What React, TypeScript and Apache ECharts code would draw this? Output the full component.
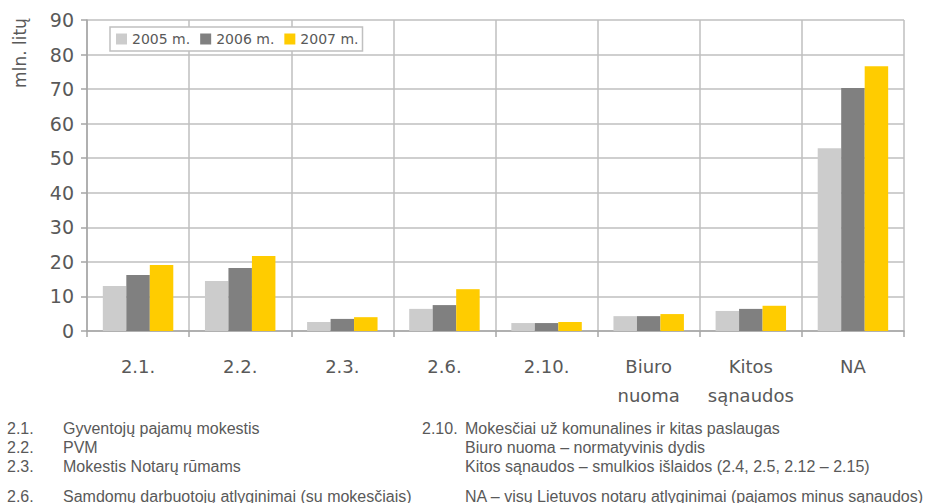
import React, { useEffect, useRef } from "react";
import * as echarts from "echarts";

const categories = ["2.1.", "2.2.", "2.3.", "2.6.", "2.10.", "Biuro\nnuoma", "Kitos\nsąnaudos", "NA"];
const seriesNames = ["2005 m.", "2006 m.", "2007 m."];
const values2005 = [13.0, 14.5, 2.6, 6.4, 2.3, 4.3, 5.8, 52.9];
const values2006 = [16.2, 18.2, 3.5, 7.5, 2.3, 4.3, 6.4, 70.3];
const values2007 = [19.1, 21.7, 4.0, 12.1, 2.6, 4.9, 7.3, 76.6];
const colors = ["#CCCCCC", "#808080", "#FFCC00"];
const yName = "mln. litų";

const notesLeft = [
  ["2.1.", "Gyventojų pajamų mokestis"],
  ["2.2.", "PVM"],
  ["2.3.", "Mokestis Notarų rūmams"],
  ["2.6.", "Samdomų darbuotojų atlyginimai (su mokesčiais)"],
];
const notesRight = [
  ["2.10.", "Mokesčiai už komunalines ir kitas paslaugas"],
  ["", "Biuro nuoma – normatyvinis dydis"],
  ["", "Kitos sąnaudos – smulkios išlaidos (2.4, 2.5, 2.12 – 2.15)"],
  ["", "NA – visų Lietuvos notarų atlyginimai (pajamos minus sąnaudos)"],
];

export default function App() {
  const ref = useRef<HTMLDivElement>(null);
  useEffect(() => {
    if (!ref.current) return;
    const chart = echarts.init(ref.current, undefined, { renderer: "svg" });
    const rowsY = [428, 447, 466, 496];
    const noteFont = { fontFamily: "Liberation Sans", fontSize: 16, fill: "#595959" };
    const graphics: any[] = [
      {
        type: "text",
        x: 20,
        y: 53,
        rotation: Math.PI / 2,
        style: { text: yName, fontFamily: "DejaVu Sans", fontSize: 17, fill: "#595959", align: "center", verticalAlign: "middle" },
      },
    ];
    notesLeft.forEach(([a, b], i) => {
      graphics.push({ type: "text", x: 7, y: rowsY[i], style: { ...noteFont, text: a, verticalAlign: "middle" } });
      graphics.push({ type: "text", x: 63, y: rowsY[i], style: { ...noteFont, text: b, verticalAlign: "middle" } });
    });
    notesRight.forEach(([a, b], i) => {
      if (a) graphics.push({ type: "text", x: 422, y: rowsY[i], style: { ...noteFont, text: a, verticalAlign: "middle" } });
      graphics.push({ type: "text", x: 465, y: rowsY[i], style: { ...noteFont, text: b, verticalAlign: "middle" } });
    });
    const data = [values2005, values2006, values2007];
    chart.setOption({
      animation: false,
      grid: { left: 87, right: 23, top: 20, bottom: 172 },
      legend: {
        left: 110,
        top: 27,
        itemWidth: 11,
        itemHeight: 11,
        itemGap: 10,
        padding: [5, 4, 5, 6],
        backgroundColor: "#FFFFFF",
        borderColor: "#C0C0C0",
        borderWidth: 1.5,
        borderRadius: 0,
        icon: "rect",
        textStyle: { fontFamily: "DejaVu Sans", fontSize: 14, color: "#595959" },
        data: seriesNames,
      },
      xAxis: {
        type: "category",
        data: categories,
        axisLine: { lineStyle: { color: "#A6A6A6", width: 1.5 } },
        axisTick: { show: true, interval: 0, length: 6, lineStyle: { color: "#A6A6A6", width: 1.5 } },
        splitLine: { show: true, interval: 0, lineStyle: { color: "#BFBFBF", width: 1.5 } },
        axisLabel: { interval: 0, fontFamily: "DejaVu Sans", fontSize: 18, color: "#595959", margin: 21, lineHeight: 29 },
      },
      yAxis: {
        type: "value",
        min: 0,
        max: 90,
        interval: 10,
        axisLine: { show: true, lineStyle: { color: "#A6A6A6", width: 1.5 } },
        axisTick: { show: true, length: 6, lineStyle: { color: "#A6A6A6", width: 1.5 } },
        splitLine: { show: true, lineStyle: { color: "#BFBFBF", width: 1.5 } },
        axisLabel: { fontFamily: "DejaVu Sans", fontSize: 19, color: "#595959", margin: 13 },
      },
      series: seriesNames.map((name, i) => ({
        name,
        type: "bar",
        data: data[i],
        itemStyle: { color: colors[i] },
        barGap: "0%",
        barCategoryGap: "31%",
      })),
      graphic: graphics,
    });
    return () => chart.dispose();
  }, []);
  return <div ref={ref} style={{ position: "fixed", left: 0, top: 0, width: 927, height: 503, background: "#fff" }} />;
}
